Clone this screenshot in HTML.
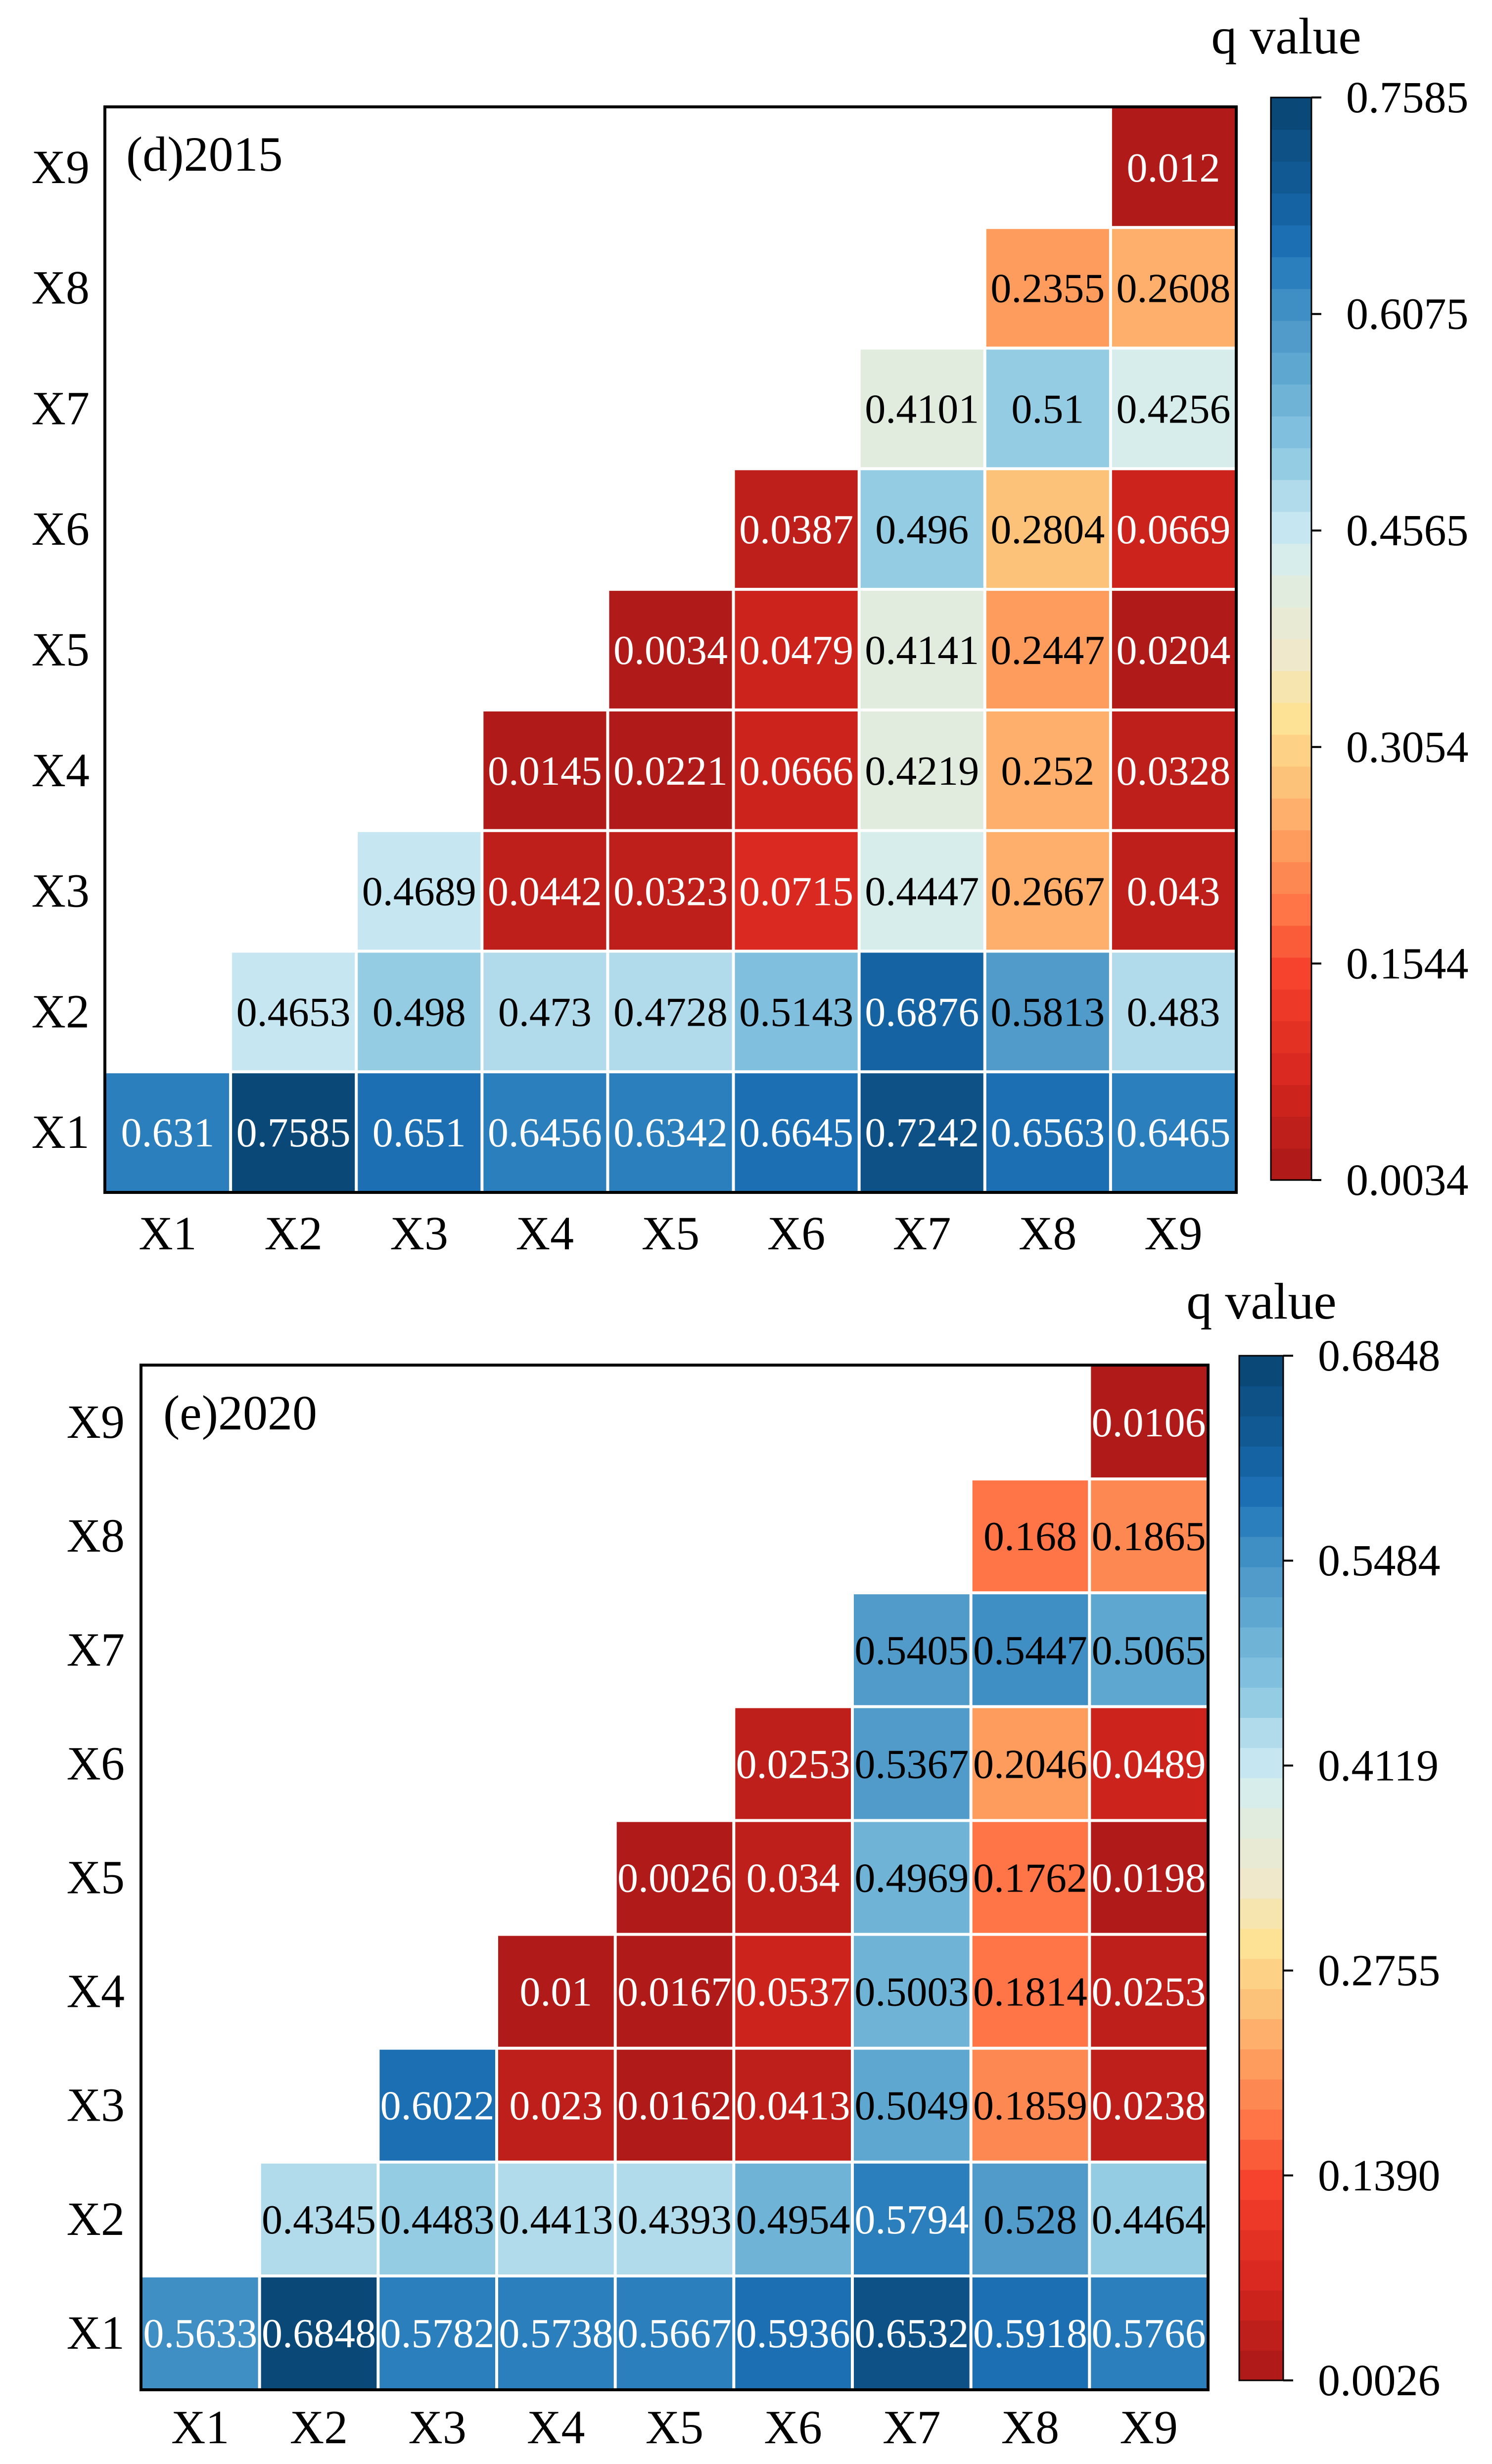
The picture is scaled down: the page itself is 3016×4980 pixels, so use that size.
<!DOCTYPE html>
<html><head><meta charset="utf-8"><style>
html,body{margin:0;padding:0;background:#fff;}
svg{display:block;font-family:"Liberation Serif",serif;}
</style></head><body>
<svg id="chart" width="3016" height="4980" viewBox="0 0 3016 4980" xmlns="http://www.w3.org/2000/svg"></svg>
<script>
const categories = ["X1","X2","X3","X4","X5","X6","X7","X8","X9"];
// rows from X9 (top) down to X1; each row's values run from column X(row) to X9
const values2015 = [
  [0.012],
  [0.2355,0.2608],
  [0.4101,0.51,0.4256],
  [0.0387,0.496,0.2804,0.0669],
  [0.0034,0.0479,0.4141,0.2447,0.0204],
  [0.0145,0.0221,0.0666,0.4219,0.252,0.0328],
  [0.4689,0.0442,0.0323,0.0715,0.4447,0.2667,0.043],
  [0.4653,0.498,0.473,0.4728,0.5143,0.6876,0.5813,0.483],
  [0.631,0.7585,0.651,0.6456,0.6342,0.6645,0.7242,0.6563,0.6465]
];
const values2020 = [
  [0.0106],
  [0.168,0.1865],
  [0.5405,0.5447,0.5065],
  [0.0253,0.5367,0.2046,0.0489],
  [0.0026,0.034,0.4969,0.1762,0.0198],
  [0.01,0.0167,0.0537,0.5003,0.1814,0.0253],
  [0.6022,0.023,0.0162,0.0413,0.5049,0.1859,0.0238],
  [0.4345,0.4483,0.4413,0.4393,0.4954,0.5794,0.528,0.4464],
  [0.5633,0.6848,0.5782,0.5738,0.5667,0.5936,0.6532,0.5918,0.5766]
];
const titles = ["(d)2015","(e)2020"];

const svg = document.getElementById('chart');
const NS = "http://www.w3.org/2000/svg";
function mk(tag, attrs){const e=document.createElementNS(NS,tag);for(const k in attrs)e.setAttribute(k,attrs[k]);return e;}

const stops = [
 [0.00,"#b01b19"],[0.08,"#d6261e"],[0.18,"#f5412c"],[0.24,"#ff7346"],[0.30,"#fd9a5b"],
 [0.36,"#fdc078"],[0.42,"#fee090"],[0.48,"#f1e8c8"],[0.565,"#dcede6"],[0.59,"#d0ecf4"],
 [0.62,"#bde3ee"],[0.65,"#a7d5e8"],[0.67,"#8fcae2"],[0.76,"#5da6d0"],[0.80,"#4a96c8"],
 [0.84,"#3284c0"],[0.87,"#1d72b7"],[0.92,"#135f9c"],[1.00,"#0a4878"]];
function hx(h){return [1,3,5].map(i=>parseInt(h.substr(i,2),16));}
const NL = 34;
function cmap(t){
  t=Math.max(0,Math.min(1,t));
  t=Math.min(NL-1,Math.floor(t*NL))/(NL-1);
  for(let i=0;i<stops.length-1;i++){
    if(t<=stops[i+1][0]){
      const a=hx(stops[i][1]),b=hx(stops[i+1][1]);
      const f=(t-stops[i][0])/(stops[i+1][0]-stops[i][0]);
      return "rgb("+a.map((v,k)=>Math.round(v+(b[k]-v)*f)).join(",")+")";
    }
  }
  return stops[stops.length-1][1];
}

const layouts = [
  {x0:212,y0:216,x1:2499,y1:2410,cbx:2569,cbw:82,cby0:197,cby1:2385,ylabX:181,xlabY:2525,qx:2600,qy:108,tx:255,ty:345},
  {x0:285,y0:2759,x1:2442,y1:4830,cbx:2505,cbw:89,cby0:2740,cby1:4811,ylabX:252,xlabY:4938,qx:2550,qy:2665,tx:330,ty:2889}
];

function drawPanel(data, L, title, idx){
  const g=mk('g',{});
  
  
  svg.appendChild(g);
  const all=data.flat();
  const vmin=Math.min(...all), vmax=Math.max(...all);
  const n=categories.length;
  const cw=(L.x1-L.x0)/n, ch=(L.y1-L.y0)/n;
  const xPos=c=>L.x0+c*cw;
  const yPos=r=>L.y0+r*ch;
  const norm=v=>(v-vmin)/(vmax-vmin);
  data.forEach((row,r)=>{
    const startCol=n-1-r;
    row.forEach((v,k)=>{
      const c=startCol+k;
      const t=norm(v);
      const rect=mk('rect',{x:xPos(c)+3,y:yPos(r)+3,width:cw-6,height:ch-6,fill:cmap(t)});
      
      
      g.appendChild(rect);
      const tx=mk('text',{x:xPos(c)+cw/2,y:yPos(r)+ch/2+29,'text-anchor':'middle','font-size':84,fill:(t<0.15||t>0.81)?'#fff':'#000'});
      tx.textContent=String(v);
      
      
      g.appendChild(tx);
    });
  });
  const fr=mk('rect',{x:L.x0,y:L.y0,width:L.x1-L.x0,height:L.y1-L.y0,fill:'none',stroke:'#000','stroke-width':6});
  
  
  g.appendChild(fr);
  categories.forEach((cat,i)=>{
    const xl=mk('text',{x:xPos(i)+cw/2,y:L.xlabY,'text-anchor':'middle','font-size':96,fill:'#000'});
    xl.textContent=cat;
    
    
    g.appendChild(xl);
    const yl=mk('text',{x:L.ylabX,y:yPos(n-1-i)+ch/2+32,'text-anchor':'end','font-size':96,fill:'#000'});
    yl.textContent=cat;
    
    
    g.appendChild(yl);
  });
  const tt=mk('text',{x:L.tx,y:L.ty,'font-size':100,fill:'#000'});
  tt.textContent=title;
  
  
  g.appendChild(tt);
  const cbh=L.cby1-L.cby0;
  for(let i=0;i<NL;i++){
    const t=(i+0.5)/NL;
    const s=mk('rect',{x:L.cbx,y:L.cby1-(i+1)*cbh/NL,width:L.cbw,height:cbh/NL+1,fill:cmap(t)});
    
    
    g.appendChild(s);
  }
  const cbf=mk('rect',{x:L.cbx,y:L.cby0,width:L.cbw,height:cbh,fill:'none',stroke:'#000','stroke-width':3});
  
  
  g.appendChild(cbf);
  for(let i=0;i<=5;i++){
    const v=vmin+(vmax-vmin)*i/5;
    const y=L.cby1-cbh*i/5;
    const tk=mk('line',{x1:L.cbx+L.cbw,x2:L.cbx+L.cbw+20,y1:y,y2:y,stroke:'#000','stroke-width':4});
    
    
    g.appendChild(tk);
    const lb=mk('text',{x:L.cbx+L.cbw+70,y:y+30,'font-size':90,fill:'#000'});
    lb.textContent=v.toFixed(4);
    
    
    g.appendChild(lb);
  }
  const q=mk('text',{x:L.qx,y:L.qy,'text-anchor':'middle','font-size':104,fill:'#000'});
  q.textContent="q value";
  
  
  g.appendChild(q);
}
drawPanel(values2015, layouts[0], titles[0], 0);
drawPanel(values2020, layouts[1], titles[1], 1);
</script>
</body></html>
